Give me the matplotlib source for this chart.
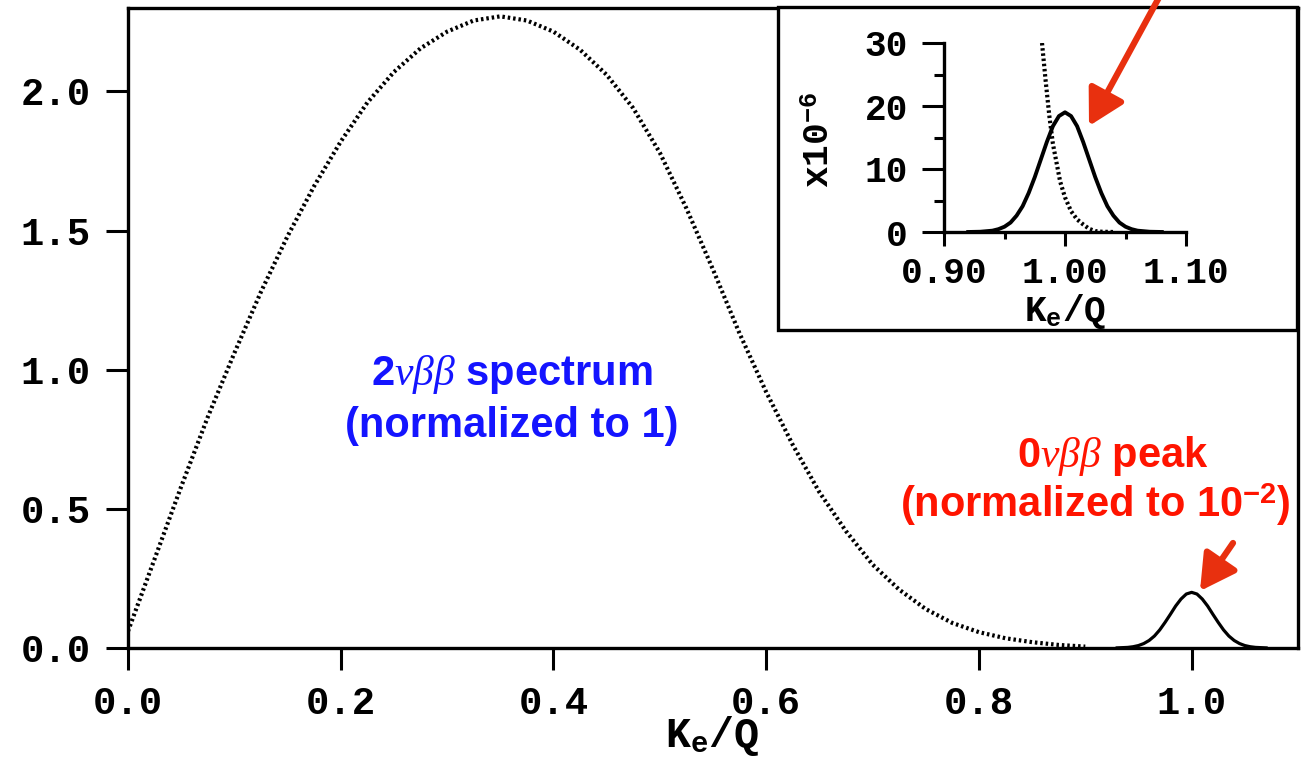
import matplotlib
matplotlib.use("Agg")
import matplotlib.pyplot as plt
from matplotlib.patches import Rectangle, FancyArrowPatch

plt.rcParams["mathtext.fontset"] = "custom"
plt.rcParams["mathtext.rm"] = "Liberation Mono:bold"
plt.rcParams["mathtext.it"] = "Liberation Serif:italic"
plt.rcParams["mathtext.bf"] = "Liberation Sans:bold"

# 2nu-bb summed electron spectrum (main panel, dotted)
x_2nu = [0.000, 0.025, 0.050, 0.075, 0.100, 0.125, 0.150, 0.175, 0.200, 0.225,
         0.250, 0.275, 0.300, 0.325, 0.350, 0.375, 0.400, 0.425, 0.450, 0.475,
         0.500, 0.525, 0.550, 0.575, 0.600, 0.625, 0.650, 0.675, 0.700, 0.725,
         0.750, 0.775, 0.800, 0.825, 0.850, 0.875, 0.900]
y_2nu = [0.06, 0.32, 0.58, 0.83, 1.06, 1.28, 1.48, 1.66, 1.82, 1.96,
         2.07, 2.155, 2.215, 2.255, 2.27, 2.255, 2.215, 2.15, 2.06, 1.94,
         1.78, 1.58, 1.36, 1.13, 0.92, 0.73, 0.56, 0.42, 0.30, 0.21,
         0.14, 0.09, 0.057, 0.035, 0.021, 0.011, 0.005]

# 0nu-bb peak (main panel, solid)
x_0nu = [0.93, 0.94, 0.945, 0.95, 0.955, 0.96, 0.965, 0.97, 0.975, 0.98, 0.985, 0.99, 0.995,
         1.00, 1.005, 1.01, 1.015, 1.02, 1.025, 1.03, 1.035, 1.04, 1.045, 1.05, 1.055, 1.06, 1.07]
y_0nu = [0.0004, 0.0022, 0.0046, 0.0088, 0.016, 0.027, 0.043, 0.065, 0.092, 0.121, 0.151, 0.176, 0.194,
         0.200, 0.194, 0.176, 0.151, 0.121, 0.092, 0.065, 0.043, 0.027, 0.016, 0.0088, 0.0046, 0.0022, 0.0004]

# inset (units of 1e-6)
xi_2nu = [0.981, 0.984, 0.987, 0.990, 0.993, 0.996, 1.000, 1.005, 1.010, 1.015, 1.020, 1.025, 1.030, 1.040]
yi_2nu = [30.0, 24.0, 18.5, 14.0, 11.0, 8.0, 5.5, 3.3, 2.0, 1.2, 0.5, 0.15, 0.05, 0.0]

xi_0nu = [0.92, 0.93, 0.94, 0.945, 0.95, 0.955, 0.96, 0.965, 0.97, 0.975, 0.98, 0.985, 0.99, 0.995,
          1.00, 1.005, 1.01, 1.015, 1.02, 1.025, 1.03, 1.035, 1.04, 1.045, 1.05, 1.055, 1.06, 1.07, 1.08]
yi_0nu = [0.0, 0.04, 0.21, 0.45, 0.84, 1.5, 2.6, 4.1, 6.2, 8.7, 11.5, 14.3, 16.8, 18.4,
          19.0, 18.4, 16.8, 14.3, 11.5, 8.7, 6.2, 4.1, 2.6, 1.5, 0.84, 0.45, 0.21, 0.04, 0.0]

x_ticks = [0.0, 0.2, 0.4, 0.6, 0.8, 1.0]
y_ticks = [0.0, 0.5, 1.0, 1.5, 2.0]
xi_ticks = [0.90, 1.00, 1.10]
yi_ticks = [0, 10, 20, 30]

W, H = 1309, 758
MONO = dict(family="Liberation Mono", weight="bold")
SANS = dict(family="Liberation Sans", weight="bold")
BLUE = "#1414ff"
RED = "#ff1400"
ARROW = "#e8300f"


def fx(px):
    return px / W


def fy(py):
    return 1 - py / H


fig = plt.figure(figsize=(W / 100, H / 100), dpi=100)

# ---- main panel
ax = fig.add_axes([fx(128), fy(648), fx(1298) - fx(128), fy(8) - fy(648)])
ax.plot(x_2nu, y_2nu, color="k", lw=3.0, ls=(0, (0.6, 0.7)))
ax.plot(x_0nu, y_0nu, color="k", lw=2.3)
ax.set_xlim(0, 1.1)
ax.set_ylim(0, 2.3)
ax.set_xticks(x_ticks)
ax.set_xticklabels([f"{v:.1f}" for v in x_ticks], **MONO, fontsize=28)
ax.set_yticks(y_ticks)
ax.set_yticklabels([f"{v:.1f}" for v in y_ticks], **MONO, fontsize=28)
ax.tick_params(direction="out", length=16, width=2.2, pad=11)
for s in ax.spines.values():
    s.set_linewidth(2.4)

fig.text(fx(712), fy(736), r"K$_\mathrm{e}$/Q", ha="center", va="center", fontsize=30, **MONO)

fig.text(fx(512), fy(385), r"2$\nu\beta\beta$ spectrum", ha="center", va="baseline",
         color=BLUE, fontsize=30, **SANS)
fig.text(fx(512), fy(437), "(normalized to 1)", ha="center", va="baseline",
         color=BLUE, fontsize=30, **SANS)
fig.text(fx(1113), fy(467), r"0$\nu\beta\beta$ peak", ha="center", va="baseline",
         color=RED, fontsize=30, **SANS)
fig.text(fx(1095), fy(517), r"(normalized to 10$^{\mathbf{-2}}$)", ha="center", va="baseline",
         color=RED, fontsize=30, **SANS)

# ---- inset frame + inset axes
fig.add_artist(Rectangle((fx(778), fy(330)), fx(1297) - fx(778), fy(7) - fy(330),
                         transform=fig.transFigure, facecolor="white", edgecolor="k",
                         lw=2.4, zorder=1))
axi = fig.add_axes([fx(944), fy(232), fx(1186) - fx(944), fy(43) - fy(232)], zorder=2)
axi.patch.set_visible(False)
axi.plot(xi_2nu, yi_2nu, color="k", lw=3.0, ls=(0, (0.6, 0.65)))
axi.plot(xi_0nu, yi_0nu, color="k", lw=2.8)
axi.set_xlim(0.9, 1.1)
axi.set_ylim(0, 30)
axi.spines["top"].set_visible(False)
axi.spines["right"].set_visible(False)
for s in ("left", "bottom"):
    axi.spines[s].set_linewidth(2.4)
axi.set_xticks(xi_ticks)
axi.set_xticks([0.95, 1.05], minor=True)
axi.set_xticklabels([f"{v:.2f}" for v in xi_ticks], **MONO, fontsize=26)
axi.set_yticks(yi_ticks)
axi.set_yticks([5, 15, 25], minor=True)
axi.set_yticklabels([str(v) for v in yi_ticks], **MONO, fontsize=26)
axi.tick_params(axis="x", which="major", direction="out", length=10, width=2.2, pad=7)
axi.tick_params(axis="x", which="minor", direction="out", length=5, width=2.2)
axi.tick_params(axis="y", which="major", direction="out", length=16, width=2.2, pad=10)
axi.tick_params(axis="y", which="minor", direction="out", length=7, width=2.2)

fig.text(fx(1065), fy(311), r"K$_\mathrm{e}$/Q", ha="center", va="center", fontsize=26, **MONO)
fig.text(fx(820), fy(140), r"x10$^{\mathrm{-6}}$", ha="center", va="center", rotation=90,
         fontsize=26, **MONO)

# ---- arrows
arrow_kw = dict(arrowstyle="-|>,head_length=0.9,head_width=0.5", color=ARROW, lw=4.5,
                mutation_scale=24, shrinkA=0, shrinkB=0)
fig.add_artist(FancyArrowPatch((fx(1233), fy(543)), (fx(1200), fy(591)),
                               transform=fig.transFigure, zorder=5, **arrow_kw))
fig.add_artist(FancyArrowPatch((fx(1162), fy(-8)), (fx(1089), fy(126)),
                               transform=fig.transFigure, zorder=5, **arrow_kw))

fig.savefig("out.png", dpi=100)
